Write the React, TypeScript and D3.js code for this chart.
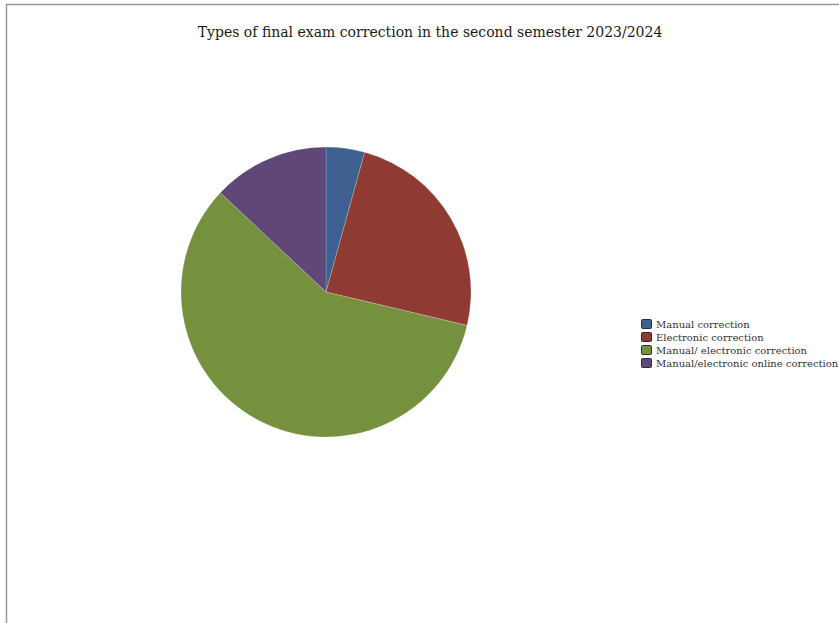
import React from 'react';
import * as d3 from 'd3';

const categories = [
  'Manual correction',
  'Electronic correction',
  'Manual/ electronic correction',
  'Manual/electronic online correction',
];
const values = [4.3, 24.4, 58.3, 13.0];
const colors = ['#3e6091', '#8f3b33', '#76913e', '#5f4878'];
const title = 'Types of final exam correction in the second semester 2023/2024';

const width = 839;
const height = 623;
const cx = 326;
const cy = 292;
const radius = 145;

export default function App() {
  const pie = d3.pie<number>().sort(null).value(d => d);
  const arcs = pie(values);
  const arc = d3.arc<d3.PieArcDatum<number>>().innerRadius(0).outerRadius(radius);

  const legendY = d3.scaleBand<string>()
    .domain(categories)
    .range([318, 370]);

  return (
    <svg
      width={width}
      height={height}
      style={{ position: 'fixed', left: 0, top: 0, background: '#fff' }}
    >
      <rect x={0} y={0} width={width} height={height} fill="#ffffff" />
      {/* frame of the original page */}
      <path d={`M6.5,${height} V4.5 H${width}`} fill="none" stroke="#9a9a9a" strokeWidth={1.5} />

      <text
        x={430}
        y={37}
        textAnchor="middle"
        fontFamily="'DejaVu Serif', serif"
        fontSize={14}
        fill="#1a1a1a"
      >
        {title}
      </text>

      <g transform={`translate(${cx},${cy})`}>
        {arcs.map((a, i) => (
          <path key={i} d={arc(a) ?? ''} fill={colors[i]} stroke="#ffffff" strokeOpacity={0.4} strokeWidth={0.5} />
        ))}
      </g>

      <g fontFamily="'DejaVu Serif', serif" fontSize={10} fill="#333">
        {categories.map((c, i) => {
          const y = legendY(c) ?? 0;
          return (
            <g key={c}>
              <rect x={641.5} y={y + 1.5} width={10} height={9} fill={colors[i]} stroke="#2a2a3a" strokeWidth={1} rx={1} />
              <text x={656} y={y + 10}>{c}</text>
            </g>
          );
        })}
      </g>
    </svg>
  );
}
